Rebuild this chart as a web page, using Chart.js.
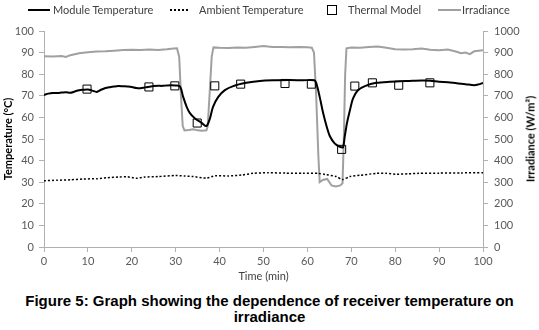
<!DOCTYPE html>
<html>
<head>
<meta charset="utf-8">
<script src="https://cdn.jsdelivr.net/npm/chart.js@4.4.0/dist/chart.umd.min.js"></script>
<style>
  body { margin: 0; background: #fff; width: 539px; height: 330px; overflow: hidden; position: relative; font-family: Lato, sans-serif; }
  #wrap { position: absolute; left: 0; top: 0; width: 539px; height: 290px; }
  .lg { position: absolute; font-size: 11px; color: #404040; line-height: 12px; top: 4px; white-space: nowrap; }
  .mk { position: absolute; }
  #rtitle { position: absolute; left: 530px; top: 139px; transform: translate(-50%, -50%) rotate(-90deg); font: bold 11px Lato, sans-serif; color: #000; white-space: nowrap; }
  #caption { position: absolute; left: 0; top: 293px; width: 539px; text-align: center; font: bold 15px "Liberation Sans", Arial, sans-serif; line-height: 16px; color: #000; }
</style>
</head>
<body>
<div id="wrap"><canvas id="chart" width="539" height="290"></canvas></div>

<!-- leyenda -->
<div class="mk" style="left:28px;top:9px;width:22px;height:2px;background:#000"></div>
<div class="lg" style="left:53px">Module Temperature</div>
<div class="mk" style="left:170px;top:9px;width:18px;border-top:2px dotted #000"></div>
<div class="lg" style="left:199px">Ambient Temperature</div>
<div class="mk" style="left:327px;top:5px;width:8px;height:8px;border:1px solid #000"></div>
<div class="lg" style="left:348px">Thermal Model</div>
<div class="mk" style="left:438px;top:9px;width:23px;height:2px;background:#a0a0a0"></div>
<div class="lg" style="left:462px">Irradiance</div>

<div id="rtitle">Irradiance (W/m²)</div>
<div id="caption">Figure 5: Graph showing the dependence of receiver temperature on<br>irradiance</div>

<script>
// --- Datos ---
const moduleTime = [0,1,2,3,4,5,6,7,8,9,10,11,12,13,14,15,16,17,18,19,20,21,22,23,24,25,26,27,28,29,30,31,31.7,32.5,33.2,34.4,35.9,37,37.8,38.5,39.7,41.2,43.1,46.1,49.2,53,56,59,61.5,62,62.8,63.6,64.4,65.1,66.2,67.4,68.1,68.5,69,69.7,70.4,71.5,73.1,75.7,78.8,83.3,86,88,90,92,94,96,98,99,100];
const moduleTemp = [70.4,71.0,71.3,71.3,71.5,71.7,71.4,72.0,72.6,72.8,72.9,72.4,71.8,72.8,73.6,74.0,74.3,74.5,74.4,74.3,74.1,73.6,73.5,73.9,74.2,74.5,74.6,74.6,74.8,74.9,74.8,74.3,69.5,64.9,62.1,59.5,57.5,56.0,59.5,64.9,69.5,72.6,74.5,76.0,76.9,77.2,77.3,77.2,77.2,76.0,69.5,61.9,55.7,51.4,48.0,46.4,46.2,51.1,57.2,63.4,68.8,72.6,74.5,76.0,76.5,76.9,77.1,77.0,76.5,76.3,75.8,75.4,74.9,75.3,76.0];

const ambientTime = [0,3,6,9,12,14.5,17,19,21,23,26,30,32,34,37,39,42,45,47.6,51,55,59,62.5,64,66.6,68,69.7,72,75.7,78,80.3,83,85.4,90,95,100];
const ambientTemp = [30.7,30.9,31.1,31.5,31.6,32.1,32.4,32.5,31.8,32.4,32.6,33.1,32.9,32.6,31.9,33.0,32.9,33.3,34.1,34.4,34.2,34.1,34.1,33.6,32.6,31.2,32.6,33.2,34.1,34.1,33.7,33.9,34.1,34.2,34.3,34.4];

const modelTime = [9.8,23.9,29.8,34.9,38.9,44.8,54.9,60.9,67.8,70.8,74.8,80.8,87.9];
const modelTemp = [73.1,74.1,74.6,57.4,74.6,75.4,75.7,75.4,45.2,74.5,76.0,74.9,76.0];

const irrTime = [0,2,4,5,6,8,10,12,14,16,18,20,22,24,26,28,29.5,30.3,30.8,31.2,31.6,32,33,34,35,36,37,37.3,37.7,38.2,38.6,40,42,44,46,48,50,52,54,56,58,60,61,61.5,62,62.5,62.8,63.5,64.5,65.5,66.5,67.5,68,68.3,68.6,68.9,70,72,74,76,78,80,82,84,86,88,90,92,94,95,96,97,98,100];
const irrValue = [883,882,884,880,888,897,902,905,906,909,912,913,912,914,912,915,919,920,880,700,560,540,542,545,540,538,540,560,700,880,924,922,921,924,922,926,930,926,926,925,926,925,923,900,700,420,300,310,315,285,280,285,295,500,800,920,924,922,926,928,922,916,914,916,919,913,911,914,904,897,900,893,906,911];

const toPoints = (xs, ys) => xs.map((x, i) => ({ x: x, y: ys[i] }));

const axisColor = '#b0b0b0';
const tickFont = { family: 'Lato', size: 11 };
const gridOpts = { display: true, drawOnChartArea: false, drawTicks: true, tickLength: 5, color: axisColor };

new Chart(document.getElementById('chart').getContext('2d'), {
    type: 'line',
    data: {
        datasets: [
            { label: 'Module Temperature', data: toPoints(moduleTime, moduleTemp), borderColor: '#000', borderWidth: 2, pointRadius: 0, tension: 0.3, yAxisID: 'y' },
            { label: 'Ambient Temperature', data: toPoints(ambientTime, ambientTemp), borderColor: '#000', borderWidth: 1.5, borderDash: [2, 2], pointRadius: 0, tension: 0.2, yAxisID: 'y' },
            { label: 'Thermal Model', data: toPoints(modelTime, modelTemp), showLine: false, pointStyle: 'rect', pointRadius: 5.7, borderColor: '#000', borderWidth: 1, backgroundColor: 'rgba(0,0,0,0)', yAxisID: 'y' },
            { label: 'Irradiance', data: toPoints(irrTime, irrValue), borderColor: '#a0a0a0', borderWidth: 2, pointRadius: 0, tension: 0, yAxisID: 'y1' }
        ]
    },
    options: {
        responsive: false,
        animation: false,
        layout: { padding: { top: 31, left: 0, right: 0, bottom: 0 } },
        plugins: { legend: { display: false }, tooltip: { enabled: false } },
        scales: {
            x: {
                type: 'linear', min: 0, max: 100,
                ticks: { stepSize: 10, color: '#595959', font: tickFont, padding: 3, maxRotation: 0 },
                grid: gridOpts, border: { display: true, color: axisColor },
                title: { display: true, text: 'Time (min)', color: '#404040', font: { family: 'Lato', size: 11 }, padding: { top: 0, bottom: 7 } },
                afterFit: s => { s.height = 43; }
            },
            y: {
                position: 'left', min: 0, max: 100,
                ticks: { stepSize: 10, color: '#595959', font: tickFont, padding: 5 },
                grid: gridOpts, border: { display: true, color: axisColor },
                title: { display: true, text: 'Temperature (°C)', color: '#000', font: { family: 'Lato', size: 11, weight: 'bold' }, padding: { top: 2, bottom: 0 } },
                afterFit: s => { s.width = 44; }
            },
            y1: {
                position: 'right', min: 0, max: 1000,
                ticks: { stepSize: 100, color: '#595959', font: tickFont, padding: 6, callback: v => String(v) },
                grid: gridOpts, border: { display: true, color: axisColor },
                afterFit: s => { s.width = 56; }
            }
        }
    }
});
</script>
</body>
</html>
